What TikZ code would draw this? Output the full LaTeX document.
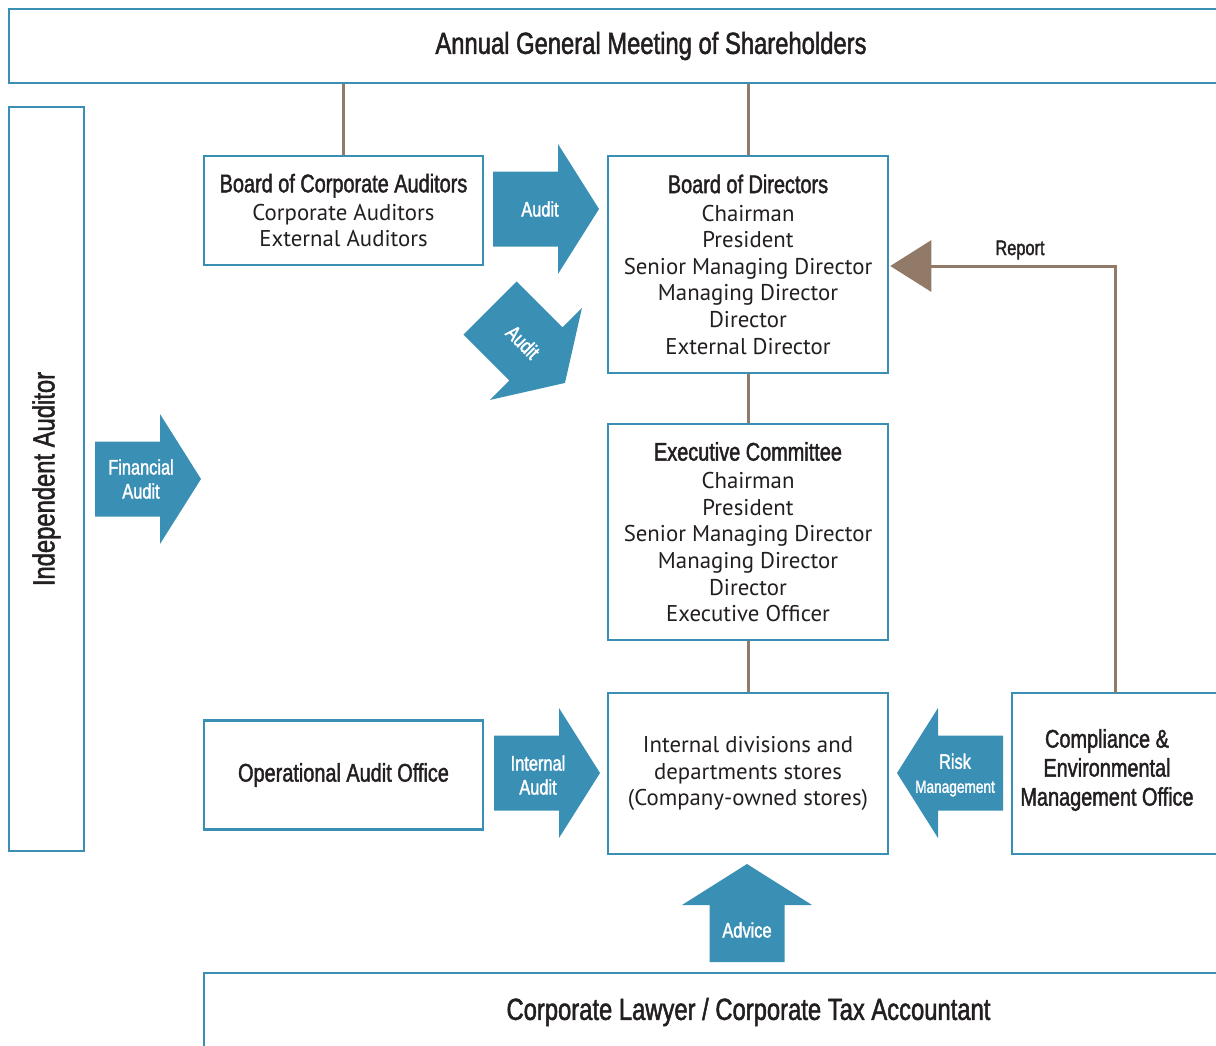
\documentclass[tikz,border=0pt]{standalone}
\usepackage{fontspec}
\setmainfont{PT Sans}
\newfontfamily\condfont[FakeStretch=0.78,FakeBold=1.6]{Liberation Sans}
\usetikzlibrary{arrows.meta}
\definecolor{bteal}{HTML}{3A8FB5}
\definecolor{brn}{HTML}{927A68}
\definecolor{ink}{HTML}{231F20}
\newcommand\ttlf{\condfont\fontsize{25.5}{27}\selectfont}
\newcommand\bigttlf{\condfont\fontsize{30.5}{32}\selectfont}
\newcommand\bodyf{\fontsize{22.8}{26.6}\selectfont}
\tikzset{
  box/.style={draw=bteal, line width=2.5pt, inner sep=0pt, text=ink, align=center, font=\bodyf},
  conn/.style={draw=brn, line width=3pt},
  pics/barrow/.style={code={\fill[bteal] (0,-37.5) -- (#1,-37.5) -- (#1,-65) -- (#1+41,0) -- (#1,65) -- (#1,37.5) -- (0,37.5) -- cycle;}},
  pics/barrow/.default=65,
  atext/.style={text=white, font=\condfont\fontsize{21}{24}\selectfont, align=center, inner sep=0pt},
  lbl/.style={text=ink, inner sep=0pt, align=center},
}
\begin{document}
\begin{tikzpicture}[x=1pt,y=-1pt]
\useasboundingbox (0,0) rectangle (1216,1045);
\clip (0,0) rectangle (1216,1045);
\fill[white] (0,0) rectangle (1216,1045);
% boxes
\node[box, minimum width=1284, minimum height=74, font=\bigttlf] (agm) at (651,46) {Annual General Meeting of Shareholders};
\node[box, minimum width=75, minimum height=744] (ia) at (46.5,479) {};
\node[lbl, rotate=90, font=\bigttlf] (iat) at (ia.center) {Independent Auditor};
\node[box, minimum width=279, minimum height=109] (bca) at (343.5,210.5) {{\ttlf Board of Corporate Auditors}\\[1.4pt]Corporate Auditors\\External Auditors};
\node[box, minimum width=280, minimum height=217] (bod) at (748,264.5) {{\ttlf Board of Directors}\\[1.4pt]Chairman\\President\\Senior Managing Director\\Managing Director\\Director\\External Director};
\node[box, minimum width=280, minimum height=216] (exc) at (748,532) {{\ttlf Executive Committee}\\[1.4pt]Chairman\\President\\Senior Managing Director\\Managing Director\\Director\\Executive Officer};
\node[box, minimum width=280, minimum height=161] (idv) at (748,773.5) {Internal divisions and\\departments stores\\(Company-owned stores)};
\node[box, minimum width=279, minimum height=109, font=\ttlf] (oao) at (343.5,775) {Operational Audit Office};
\node[box, minimum width=218, minimum height=161] (cem) at (1121,773.5) {};
\node[lbl, font=\condfont\fontsize{25.5}{29}\selectfont] (cemt) at (1107,770) {Compliance \&\\Environmental\\Management Office};
\node[box, minimum width=1089, minimum height=78, font=\bigttlf] (law) at (748.5,1012) {Corporate Lawyer / Corporate Tax Accountant};
% brown connectors
\draw[conn] (bca.north) -- (bca.north |- agm.south);
\draw[conn] (bod.north) -- (bod.north |- agm.south);
\draw[conn] (bod.south) -- (exc.north);
\draw[conn] (exc.south) -- (idv.north);
\coordinate (rp) at (1115,693);
\draw[conn, -{Triangle[length=41pt,width=51pt]}] (rp) |- ([xshift=1pt,yshift=-1.5pt]bod.east);
\node[lbl, font=\condfont\fontsize{21}{24}\selectfont] (rep) at (1020,250) {Report};
% blue arrows
\pic at (493,209) {barrow};
\node[atext] (a1) at (540,209) {Audit};
\pic[rotate=-45] at (490,308) {barrow};
\node[atext, rotate=-45] (a2) at (523,342) {Audit};
\pic at (95,479) {barrow};
\node[atext] (a3) at (141,479) {Financial\\Audit};
\pic at (494,773) {barrow};
\node[atext] (a4) at (538,775) {Internal\\Audit};
\pic[rotate=180] at (1003,773) {barrow};
\node[atext] (a5) at (955,775) {Risk\\{\fontsize{17.5}{24}\selectfont Management}};
\pic[rotate=90] at (747,962) {barrow=57};
\node[atext] (a6) at (747,930) {Advice};
\end{tikzpicture}
\end{document}
